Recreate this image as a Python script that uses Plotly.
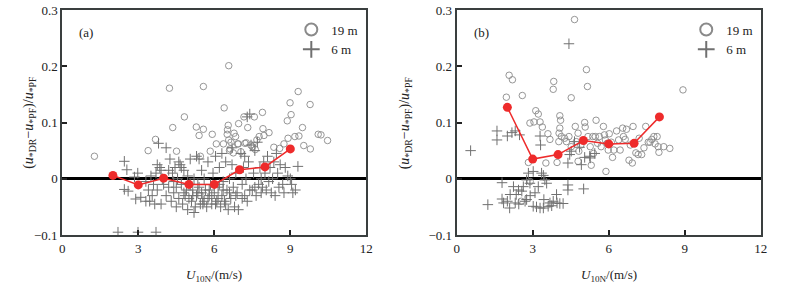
import plotly.graph_objects as go

# ---------------- Panel (a) data ----------------
a_c19_x = [1.27, 3.68, 3.39, 4.23, 4.36, 4.82, 4.51, 5.29, 5.40, 5.57, 5.57, 5.92, 6.08, 6.39, 6.36,
           6.57, 6.55, 6.52, 6.51, 6.57, 6.62, 6.75, 6.78, 6.84, 6.96, 6.92, 7.17, 7.21, 7.32, 7.26,
           7.44, 7.58, 7.68, 7.77, 7.90, 7.92, 7.96, 8.16, 8.35, 8.58, 8.75, 8.88, 8.99, 9.03, 8.91,
           9.18, 9.31, 9.34, 9.48, 9.53, 9.78, 9.79, 10.10, 10.21, 10.47, 5.84, 6.60, 6.95, 7.50,
           7.62, 6.66, 5.45, 7.05]
a_c19_y = [0.040, 0.070, 0.050, 0.161, 0.091, 0.110, 0.049, 0.092, 0.077, 0.088, 0.164, 0.079, 0.062,
           0.126, 0.062, 0.201, 0.095, 0.087, 0.079, 0.069, 0.053, 0.046, 0.081, 0.075, 0.098, 0.062,
           0.110, 0.063, 0.091, 0.064, 0.060, 0.110, 0.069, 0.075, 0.118, 0.089, 0.077, 0.082, 0.056,
           0.054, 0.062, 0.103, 0.135, 0.114, 0.072, 0.075, 0.155, 0.076, 0.091, 0.059, 0.132, 0.053,
           0.079, 0.078, 0.068, 0.049, 0.050, 0.062, 0.057, 0.052, 0.065, 0.040, 0.048]

a_c6_x = [2.45, 2.55, 2.45, 2.60, 2.90, 2.98, 2.85, 3.10, 2.20, 2.99, 3.70,
          3.30, 3.45, 3.55, 3.40, 3.60, 3.70, 3.75, 3.80, 3.85, 3.90, 3.95, 3.50, 3.65, 3.30, 3.75, 3.90,
          4.10, 4.10, 4.20, 4.25, 4.30, 4.35, 4.40, 4.45, 4.50, 4.55, 4.60, 4.65, 4.70, 4.75, 4.80, 4.85,
          4.90, 4.95, 4.50, 4.20, 4.70, 4.95, 4.60,
          5.05, 5.10, 5.15, 5.20, 5.25, 5.30, 5.30, 5.35, 5.40, 5.45, 5.50, 5.50, 5.55, 5.60, 5.65, 5.70,
          5.75, 5.80, 5.85, 5.90, 5.95, 5.60, 5.20, 5.40, 5.75, 5.05,
          6.00, 6.05, 6.10, 6.15, 6.20, 6.25, 6.30, 6.30, 6.35, 6.40, 6.45, 6.50, 6.55, 6.60, 6.65, 6.70,
          6.75, 6.80, 6.85, 6.90, 6.95, 6.45, 6.20, 6.70, 6.05,
          7.05, 7.10, 7.15, 7.20, 7.25, 7.30, 7.35, 7.40, 7.45, 7.50, 7.55, 7.60, 7.65, 7.70, 7.75, 7.80,
          7.85, 7.90, 7.95, 7.30, 7.60, 7.20,
          8.00, 8.05, 8.10, 8.15, 8.20, 8.25, 8.30, 8.35, 8.40, 8.50, 8.55, 8.60, 8.70, 8.75, 8.80, 8.90,
          9.00, 9.10, 9.20, 9.30, 8.45, 9.05,
          4.00, 4.40, 4.80, 5.15, 5.55, 5.90, 6.35, 6.60, 5.00, 5.35, 5.80, 6.15, 6.85, 7.40, 7.10, 7.85]
a_c6_y = [0.031, 0.016, -0.019, -0.022, -0.036, 0.010, 0.003, -0.033, -0.095, -0.095, -0.095,
          -0.040, -0.040, -0.030, -0.020, -0.010, 0.010, 0.025, 0.063, 0.020, -0.045, 0.000, 0.005, -0.045,
          -0.005, -0.020, 0.015,
          0.055, -0.030, -0.015, 0.035, -0.040, 0.010, -0.025, 0.020, -0.050, 0.000, -0.035, 0.025, -0.010,
          -0.045, 0.015, -0.030, -0.020, 0.005, -0.015, 0.015, 0.020, -0.055, 0.030,
          0.035, -0.040, -0.020, 0.000, -0.050, 0.040, -0.030, -0.010, 0.035, -0.045, -0.025, 0.015,
          -0.035, 0.000, -0.020, -0.050, 0.030, -0.030, -0.010, -0.045, 0.010, -0.040, -0.060, -0.015,
          -0.035, -0.010,
          -0.025, 0.040, -0.040, -0.015, 0.020, -0.050, -0.030, 0.045, -0.005, -0.040, 0.030, -0.020,
          -0.055, 0.000, -0.035, 0.025, -0.015, -0.050, 0.010, -0.025, -0.055, -0.045, -0.010, 0.055,
          -0.045,
          0.045, -0.010, 0.020, -0.030, 0.000, -0.040, 0.030, 0.115, 0.060, -0.020, 0.010, 0.050, -0.030,
          0.065, -0.010, 0.020, 0.000, -0.015, 0.030, 0.110, -0.015, 0.040,
          0.010, -0.020, 0.040, -0.005, 0.020, -0.025, 0.000, 0.030, -0.030, 0.010, -0.015, 0.025, -0.010,
          -0.025, 0.020, 0.005, 0.000, -0.025, -0.020, 0.022, 0.045, -0.010,
          -0.010, -0.005, -0.025, -0.030, -0.045, -0.030, -0.020, -0.025, -0.035, -0.025, -0.020, -0.035,
          -0.030, -0.020, -0.035, -0.025]

a_mean_x = [2, 3, 4, 5, 6, 7, 8, 9]
a_mean_y = [0.006, -0.011, 0.001, -0.010, -0.010, 0.016, 0.021, 0.053]

# ---------------- Panel (b) data ----------------
b_c19_x = [1.96, 2.07, 2.20, 2.59, 3.83, 3.81, 4.65, 4.52, 5.12, 5.16, 8.93, 3.12, 3.22, 2.89, 3.05,
           3.29, 3.38, 3.60, 3.68, 2.83, 3.52, 3.96, 4.07, 4.10, 4.07, 4.04, 4.13, 4.03, 4.26, 4.33,
           4.43, 4.52, 4.68, 4.72, 4.79, 4.82, 4.79, 5.05, 5.07, 5.18, 5.27, 5.31, 5.37, 5.47, 5.56,
           5.63, 5.50, 5.70, 5.79, 5.83, 5.87, 5.89, 5.94, 5.98, 6.02, 6.15, 6.20, 6.31, 6.39, 6.45,
           6.55, 6.58, 6.65, 6.70, 6.80, 6.93, 6.96, 7.07, 7.16, 7.30, 7.39, 7.46, 7.56, 7.78, 7.91,
           7.95, 7.98, 8.17, 8.41, 7.63, 7.70, 7.83, 2.55, 2.90, 4.90, 5.40, 6.10, 6.85, 7.20]
b_c19_y = [0.145, 0.184, 0.176, 0.148, 0.173, 0.159, 0.283, 0.144, 0.194, 0.164, 0.158, 0.121, 0.115,
           0.099, 0.101, 0.101, 0.092, 0.080, 0.070, 0.029, 0.028, 0.029, 0.112, 0.104, 0.090, 0.081,
           0.075, 0.066, 0.072, 0.066, 0.075, 0.057, 0.093, 0.066, 0.081, 0.049, 0.031, 0.100, 0.092,
           0.075, 0.057, 0.024, 0.075, 0.075, 0.063, 0.075, 0.104, 0.057, 0.093, 0.078, 0.069, 0.013,
           0.063, 0.051, 0.080, 0.038, 0.051, 0.085, 0.069, 0.051, 0.090, 0.075, 0.070, 0.088, 0.033,
           0.028, 0.093, 0.046, 0.043, 0.043, 0.055, 0.093, 0.065, 0.075, 0.075, 0.057, 0.047, 0.057,
           0.054, 0.065, 0.070, 0.062, -0.040, -0.005, 0.060, 0.045, 0.065, 0.060, 0.072]

b_c6_x = [0.55, 1.23, 1.59, 1.59, 1.79, 1.79, 1.85, 2.00, 2.09, 2.18, 2.31, 2.48, 2.11, 2.24,
          2.31, 2.35, 2.44, 2.57, 2.63, 2.70, 2.76, 2.83, 2.89, 3.02, 3.09, 3.22, 3.29, 3.31, 3.35,
          3.42, 3.44, 3.48, 3.55, 3.61, 3.68, 3.81, 3.94, 3.96, 4.07, 4.20, 4.39, 4.39, 4.39, 4.46,
          4.52, 4.92, 5.01, 5.27, 4.43, 2.76, 3.02, 3.29, 3.42, 2.00, 2.90, 4.65, 4.85, 5.25, 5.45,
          5.05, 3.15, 2.45, 3.75]
b_c6_y = [0.050, -0.046, 0.085, 0.069, -0.007, -0.036, -0.043, 0.076, -0.052, 0.082, 0.085, 0.078,
          -0.028, -0.014, -0.043, -0.028, -0.020, -0.022, -0.014, -0.040, -0.002, 0.010, -0.008, 0.013,
          -0.025, -0.014, 0.076, 0.060, 0.010, 0.006, -0.037, -0.002, -0.008, -0.049, -0.043, -0.040,
          -0.028, -0.043, -0.044, -0.044, -0.011, -0.020, 0.028, 0.043, 0.049, 0.025, -0.018, 0.037,
          0.240, -0.037, -0.049, -0.052, -0.052, -0.040, -0.030, 0.066, 0.056, 0.040, 0.045, 0.038,
          -0.050, -0.045, -0.048]

b_mean_x = [2, 3, 4, 5, 6, 7, 8]
b_mean_y = [0.127, 0.035, 0.043, 0.068, 0.062, 0.063, 0.110]

x_ticks = [0, 3, 6, 9, 12]
y_ticks = [-0.1, 0, 0.1, 0.2, 0.3]
y_ticklabels = ["\u22120.1", "0", "0.1", "0.2", "0.3"]
panel_labels = ["(a)", "(b)"]
legend_names = ["19 m", "6 m"]

GRAY_C = "#8a8a8a"
GRAY_X = "#707070"
RED = "#ee2b2b"
FONT = "Liberation Serif, Times New Roman, serif"

fig = go.Figure()

panels = [
    ("x", "y", "legend", a_c19_x, a_c19_y, a_c6_x, a_c6_y, a_mean_x, a_mean_y),
    ("x2", "y2", "legend2", b_c19_x, b_c19_y, b_c6_x, b_c6_y, b_mean_x, b_mean_y),
]
for xa, ya, lg, cx, cy, px, py, mx, my in panels:
    fig.add_trace(go.Scatter(x=cx, y=cy, mode="markers", name=legend_names[0], xaxis=xa, yaxis=ya,
                             legend=lg,
                             marker=dict(symbol="circle-open", size=6.5, color=GRAY_C,
                                         line=dict(width=0.9, color=GRAY_C))))
    fig.add_trace(go.Scatter(x=px, y=py, mode="markers", name=legend_names[1], xaxis=xa, yaxis=ya,
                             legend=lg,
                             marker=dict(symbol="cross-thin-open", size=7.5, color=GRAY_X,
                                         line=dict(width=1.0, color=GRAY_X))))
    fig.add_trace(go.Scatter(x=mx, y=my, mode="lines+markers", showlegend=False, xaxis=xa, yaxis=ya,
                             line=dict(color=RED, width=1.5),
                             marker=dict(symbol="circle", size=9, color=RED)))

W, H = 790, 287
axis_common = dict(showgrid=False, showline=True, linecolor="#3a3f3f", linewidth=2, mirror=True,
                   ticks="inside", ticklen=5, tickwidth=2, tickcolor="#222",
                   tickfont=dict(family=FONT, size=13, color="#222"))

fig.update_layout(
    width=W, height=H,
    margin=dict(l=0, r=0, t=10, b=52),
    paper_bgcolor="white", plot_bgcolor="white",
    showlegend=True,
    font=dict(family=FONT, size=13, color="#222"),
    xaxis=dict(domain=[60 / W, 368 / W], range=[0, 12], tickvals=x_ticks, anchor="y", **axis_common),
    yaxis=dict(domain=[0, 1], range=[-0.1, 0.3], tickvals=y_ticks, ticktext=y_ticklabels, anchor="x",
               zeroline=True, zerolinecolor="black", zerolinewidth=2.5, **axis_common),
    xaxis2=dict(domain=[459.5 / W, 767.5 / W], range=[0, 12], tickvals=x_ticks, anchor="y2", **axis_common),
    yaxis2=dict(domain=[0, 1], range=[-0.1, 0.3], tickvals=y_ticks, ticktext=y_ticklabels, anchor="x2",
                zeroline=True, zerolinecolor="black", zerolinewidth=2.5, **axis_common),
    legend=dict(x=292 / W, y=0.98, xanchor="left", yanchor="top", bgcolor="rgba(0,0,0,0)",
                itemsizing="constant", font=dict(family=FONT, size=13, color="#222"),
                tracegroupgap=0),
    legend2=dict(x=692 / W, y=0.98, xanchor="left", yanchor="top", bgcolor="rgba(0,0,0,0)",
                 itemsizing="constant", font=dict(family=FONT, size=13, color="#222"),
                 tracegroupgap=0),
)

ytitle = "(<i>u</i><sub>*DR</sub>\u2212<i>u</i><sub>*PF</sub>)/<i>u</i><sub>*PF</sub>"
xtitle = "<i>U</i><sub>10N</sub>/(m/s)"
for i, (xa, ya) in enumerate([("x", "y"), ("x2", "y2")]):
    fig.add_annotation(text=panel_labels[i], xref=xa, yref=ya, x=0.6, y=0.26, xanchor="left",
                       showarrow=False, font=dict(family=FONT, size=13, color="#222"))
    fig.add_annotation(text=xtitle, xref=xa + " domain", yref="paper", x=0.5, y=-0.18,
                       yanchor="middle", showarrow=False, font=dict(family=FONT, size=13, color="#222"))
left_px = [16, 408]
for lp in left_px:
    fig.add_annotation(text=ytitle, xref="paper", yref="paper", x=lp / W, y=0.5, textangle=-90,
                       showarrow=False, font=dict(family=FONT, size=14, color="#222"))

# remove the browser's default 8 px body margin so the figure fills the window exactly
fig.write_html("out.html", config={"displayModeBar": False},
               post_script="document.body.style.margin='0px';")
